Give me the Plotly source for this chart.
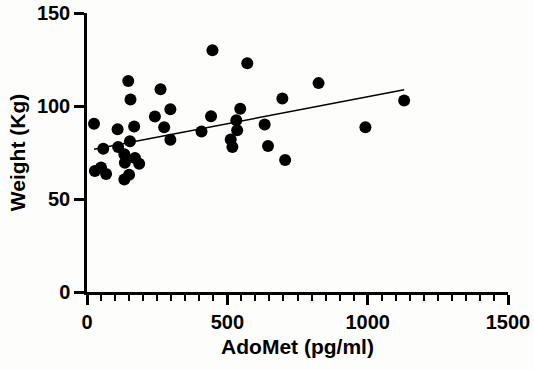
import plotly.graph_objects as go

# AdoMet (pg/ml) vs Weight (Kg)
adomet = [25, 28, 50, 68, 58, 109, 111, 147, 155, 168, 153, 133, 171, 135, 186,
          133, 150, 242, 262, 297, 275, 297, 408, 442, 447, 571, 546, 532, 535,
          512, 518, 633, 645, 706, 696, 825, 992, 1130]
weight = [90.5, 65, 67, 63.5, 77, 87.5, 78, 113.5, 103.5, 89, 81, 74, 72, 69.5, 69,
          60.5, 63, 94.4, 109, 98.3, 88.6, 81.8, 86.3, 94.5, 130, 123, 98.5, 92.3, 87,
          82, 78, 90, 78.5, 71, 104, 112.3, 88.6, 103]

# regression line endpoints
fit_x = [25, 1130]
fit_y = [76.8, 108.7]

x_ticks = [0, 500, 1000, 1500]
y_ticks = [0, 50, 100, 150]

FONT = "Liberation Sans, Arial, sans-serif"

fig = go.Figure()
fig.add_trace(go.Scatter(
    x=adomet, y=weight, mode="markers",
    marker=dict(size=12, color="black", line=dict(width=0)),
    cliponaxis=False, showlegend=False,
))
fig.add_trace(go.Scatter(
    x=fit_x, y=fit_y, mode="lines",
    line=dict(color="black", width=1.5),
    showlegend=False,
))

axis_common = dict(
    showline=True, linecolor="black", linewidth=2.5,
    ticks="outside", ticklen=10, tickwidth=2.5, tickcolor="black",
    showgrid=False, zeroline=False, automargin=False,
    tickfont=dict(family=FONT, size=20, color="black", weight="bold"),
    title_font=dict(family=FONT, size=21, color="black", weight="bold"),
)

fig.update_xaxes(
    range=[0, 1500], tickvals=x_ticks, ticktext=[str(v) for v in x_ticks],
    minor=dict(dtick=50, ticks="outside", ticklen=6, tickwidth=2, tickcolor="black", showgrid=False),
    title_text="AdoMet (pg/ml)", title_standoff=8,
    **axis_common,
)
fig.update_yaxes(
    range=[0, 150], tickvals=y_ticks, ticktext=[str(v) for v in y_ticks],
    title_text="Weight (Kg)", title_standoff=6,
    **axis_common,
)

fig.update_layout(
    width=534, height=370,
    margin=dict(l=87, r=26, t=13, b=78),
    paper_bgcolor="#fdfdfb", plot_bgcolor="#fdfdfb",
)

fig.write_html("out.html")
